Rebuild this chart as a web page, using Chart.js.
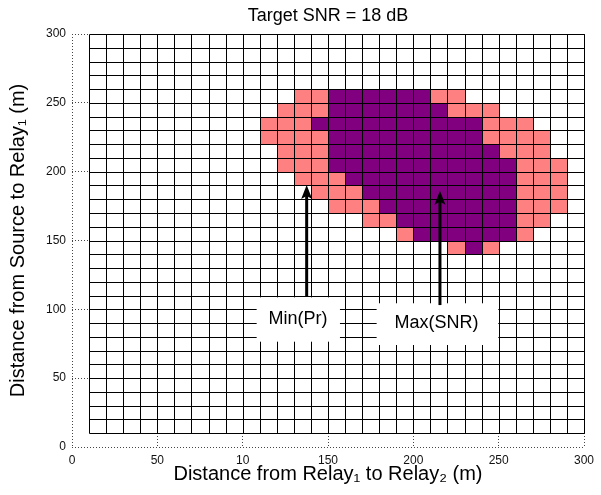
<!DOCTYPE html>
<html>
<head>
<meta charset="utf-8">
<title>Target SNR = 18 dB</title>
<script src="https://cdn.jsdelivr.net/npm/chart.js@4.4.1/dist/chart.umd.min.js"></script>
<style>
    html, body { margin: 0; padding: 0; background: #fff; }
</style>
</head>
<body>
<canvas id="snrChart" width="601" height="495"></canvas>
<script>
// Cell edges of the search grid (m), same on both axes
const cellEdges = [10, 20, 30, 40, 50, 60, 70, 80, 90, 100, 110, 120, 130, 140, 150,
                   160, 170, 180, 190, 200, 210, 220, 230, 240, 250, 260, 270, 280, 290, 300];

// Axis ticks (the original figure really says "10" where 100 should be)
const xTicks = [0, 50, 100, 150, 200, 250, 300];
const xTickLabels = ['0', '50', '10', '150', '200', '250', '300'];
const yTicks = [0, 50, 100, 150, 200, 250, 300];

// Lower edge (m) of each map row that has coloured cells
const mapRowY = [250, 240, 230, 220, 210, 200, 190, 180, 170, 160, 150, 140];
// One char per 10 m column starting at x = 10:
// '.' = not feasible, 'o' = Min(Pr) region, '#' = Max(SNR) region
const mapRows = [
    '............oo######oo.......',
    '...........ooo#######ooo.....',
    '..........ooo##########ooo...',
    '..........oooo#########oooo..',
    '...........ooo##########ooo..',
    '...........ooo###########ooo.',
    '............ooo##########ooo.',
    '.............ooo#########ooo.',
    '..............ooo########ooo.',
    '................oo#######oo..',
    '..................o######o...',
    '.....................o#o.....'
];

const FONT = "'Liberation Sans', Arial, Helvetica, 'DejaVu Sans', sans-serif";
const cellSize = cellEdges[1] - cellEdges[0];

// Split the map into the two coloured sets of cells (lower-left corners)
const minPrCells = [];
const maxSnrCells = [];
mapRows.forEach((row, r) => {
    row.split('').forEach((c, i) => {
        if (c === 'o') minPrCells.push({ x: cellEdges[i], y: mapRowY[r] });
        if (c === '#') maxSnrCells.push({ x: cellEdges[i], y: mapRowY[r] });
    });
});

// Text callouts, in data units
const callouts = [
    { text: 'Min(Pr)', tx: 132.4, ty: 93, box: [108.2, 157, 76.5, 108.7], ax: 137.5, from: 109, to: 190.3 },
    { text: 'Max(SNR)', tx: 213.6, ty: 90, box: [178.5, 249.8, 74.1, 104.4], ax: 215.6, from: 103.1, to: 186.2 }
];

const crisp = v => Math.round(v) + 0.5;

// Draws the pcolor-like cell map behind the annotations
const cellMapPlugin = {
    id: 'cellMap',
    beforeDatasetsDraw(chart) {
        const { ctx, scales: { x, y } } = chart;
        const lo = cellEdges[0], hi = cellEdges[cellEdges.length - 1];
        ctx.save();
        ctx.fillStyle = '#fff';
        ctx.fillRect(x.getPixelForValue(lo), y.getPixelForValue(hi),
            x.getPixelForValue(hi) - x.getPixelForValue(lo), y.getPixelForValue(lo) - y.getPixelForValue(hi));

        chart.data.datasets.forEach(ds => {
            ctx.fillStyle = ds.backgroundColor;
            ds.data.forEach(p => {
                const x0 = Math.round(x.getPixelForValue(p.x));
                const x1 = Math.round(x.getPixelForValue(p.x + cellSize));
                const y0 = Math.round(y.getPixelForValue(p.y + cellSize));
                const y1 = Math.round(y.getPixelForValue(p.y));
                ctx.fillRect(x0, y0, x1 - x0 + 1, y1 - y0 + 1);
            });
        });

        ctx.strokeStyle = '#000';
        ctx.lineWidth = 1;
        ctx.beginPath();
        cellEdges.forEach(e => {
            const px = crisp(x.getPixelForValue(e));
            ctx.moveTo(px, crisp(y.getPixelForValue(lo)));
            ctx.lineTo(px, crisp(y.getPixelForValue(hi)));
            const py = crisp(y.getPixelForValue(e));
            ctx.moveTo(crisp(x.getPixelForValue(lo)), py);
            ctx.lineTo(crisp(x.getPixelForValue(hi)), py);
        });
        ctx.stroke();
        ctx.restore();
    },
    afterDatasetsDraw(chart) {
        const { ctx, scales: { x, y } } = chart;
        ctx.save();
        callouts.forEach(c => {
            const [bx0, bx1, by0, by1] = c.box;
            ctx.fillStyle = '#fff';
            ctx.fillRect(x.getPixelForValue(bx0), y.getPixelForValue(by1),
                x.getPixelForValue(bx1) - x.getPixelForValue(bx0), y.getPixelForValue(by0) - y.getPixelForValue(by1));

            ctx.fillStyle = '#000';
            ctx.font = '18px ' + FONT;
            ctx.textAlign = 'center';
            ctx.textBaseline = 'middle';
            ctx.fillText(c.text, x.getPixelForValue(c.tx), y.getPixelForValue(c.ty));

            // arrow pointing up
            const ax = x.getPixelForValue(c.ax);
            const yFrom = y.getPixelForValue(c.from);
            const yTip = y.getPixelForValue(c.to);
            const headLen = 14, headHalf = 5.5, notch = 3;
            ctx.strokeStyle = '#000';
            ctx.lineWidth = 3;
            ctx.beginPath();
            ctx.moveTo(ax, yFrom);
            ctx.lineTo(ax, yTip + headLen - notch);
            ctx.stroke();
            ctx.beginPath();
            ctx.moveTo(ax, yTip);
            ctx.lineTo(ax + headHalf, yTip + headLen);
            ctx.lineTo(ax, yTip + headLen - notch);
            ctx.lineTo(ax - headHalf, yTip + headLen);
            ctx.closePath();
            ctx.fill();
        });
        ctx.restore();
    }
};

new Chart(document.getElementById('snrChart'), {
    type: 'scatter',
    data: {
        datasets: [
            {
                label: 'Min(Pr)',
                data: minPrCells,
                backgroundColor: '#ff8080',
                pointRadius: 0
            },
            {
                label: 'Max(SNR)',
                data: maxSnrCells,
                backgroundColor: '#800080',
                pointRadius: 0
            }
        ]
    },
    options: {
        responsive: false,
        animation: false,
        devicePixelRatio: 1,
        layout: { padding: { right: 17 } },
        scales: {
            x: {
                type: 'linear',
                min: 0,
                max: 300,
                afterBuildTicks: scale => { scale.ticks = xTicks.map(v => ({ value: v })); },
                afterFit: scale => { scale.height = 48; },
                ticks: {
                    autoSkip: false,
                    maxRotation: 0,
                    padding: 6,
                    color: '#111',
                    font: { family: FONT, size: 12 },
                    callback: value => xTickLabels[xTicks.indexOf(value)]
                },
                grid: { color: '#444', lineWidth: 1, drawTicks: false },
                border: { display: false, dash: [1, 2] },
                title: {
                    display: true,
                    text: 'Distance from Relay\u2081 to Relay\u2082 (m)',
                    color: '#000',
                    font: { family: FONT, size: 20 },
                    padding: { top: 0, bottom: 9 }
                }
            },
            y: {
                type: 'linear',
                min: 0,
                max: 300,
                afterBuildTicks: scale => { scale.ticks = yTicks.map(v => ({ value: v })); },
                afterFit: scale => { scale.width = 72; },
                ticks: {
                    padding: 6,
                    color: '#111',
                    font: { family: FONT, size: 12 }
                },
                grid: { color: '#444', lineWidth: 1, drawTicks: false },
                border: { display: false, dash: [1, 2] },
                title: {
                    display: true,
                    text: 'Distance from Source to Relay\u2081 (m)',
                    color: '#000',
                    font: { family: FONT, size: 20 },
                    padding: { top: 6, bottom: 0 }
                }
            }
        },
        plugins: {
            legend: { display: false },
            tooltip: { enabled: false },
            title: {
                display: true,
                fullSize: false,
                text: 'Target SNR = 18 dB',
                color: '#000',
                font: { family: FONT, size: 18, weight: 'normal' },
                padding: { top: 5, bottom: 7.4 }
            }
        }
    },
    plugins: [cellMapPlugin]
});
</script>
</body>
</html>
